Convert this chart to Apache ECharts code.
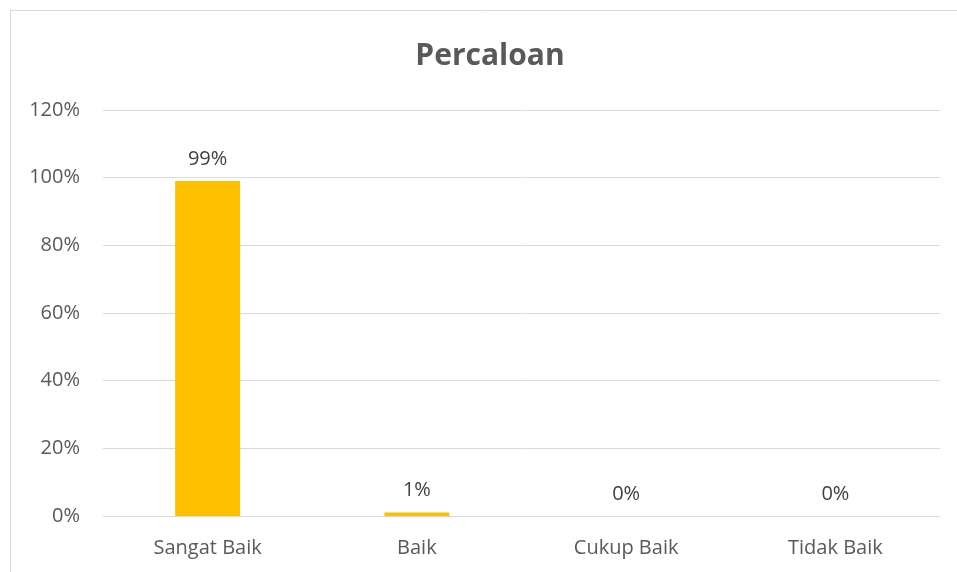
<!DOCTYPE html>
<html><head><meta charset="utf-8">
<script src="https://cdn.jsdelivr.net/npm/echarts@6/dist/echarts.min.js"></script>
<style>html,body{margin:0;padding:0;background:#fff}#c{width:957px;height:572px}</style>
</head><body><div id="c"></div>
<script>
const categories = ["Sangat Baik", "Baik", "Cukup Baik", "Tidak Baik"];
const values = [0.99, 0.01, 0, 0];
const yTicks = [0, 0.2, 0.4, 0.6, 0.8, 1.0, 1.2];
const title = "Percaloan";

const chart = echarts.init(document.getElementById('c'));
const font = "'Open Sans', 'Noto Sans', sans-serif";
chart.setOption({
  animation: false,
  backgroundColor: '#fff',
  graphic: [{
    type: 'rect', shape: {x: 10.5, y: 10.5, width: 1000, height: 1000},
    style: {fill: 'none', stroke: '#d9d9d9', lineWidth: 1}, silent: true, z: -1
  }],
  title: {
    text: title, left: 485, top: 36, textAlign: 'center',
    textStyle: {fontFamily: font, fontSize: 30, fontWeight: 'bold', color: '#595959'}
  },
  grid: {left: 103, right: 17, top: 110, bottom: 56},
  xAxis: {
    type: 'category', data: categories,
    axisLine: {lineStyle: {color: '#d9d9d9'}},
    axisTick: {show: false},
    axisLabel: {fontFamily: font, fontSize: 20, color: '#595959', margin: 22}
  },
  yAxis: {
    type: 'value', min: yTicks[0], max: yTicks[yTicks.length - 1], interval: 0.2,
    axisLine: {show: false}, axisTick: {show: false},
    splitLine: {lineStyle: {color: '#d9d9d9'}},
    axisLabel: {fontFamily: font, fontSize: 20, color: '#595959', margin: 23,
      formatter: v => Math.round(v * 100) + '%'}
  },
  series: [{
    type: 'bar', data: values, barWidth: 65,
    itemStyle: {color: '#ffc000'},
    label: {show: true, position: 'top', distance: 12, fontFamily: font, fontSize: 20, color: '#404040',
      formatter: p => Math.round(p.value * 100) + '%'}
  }]
});
</script></body></html>
